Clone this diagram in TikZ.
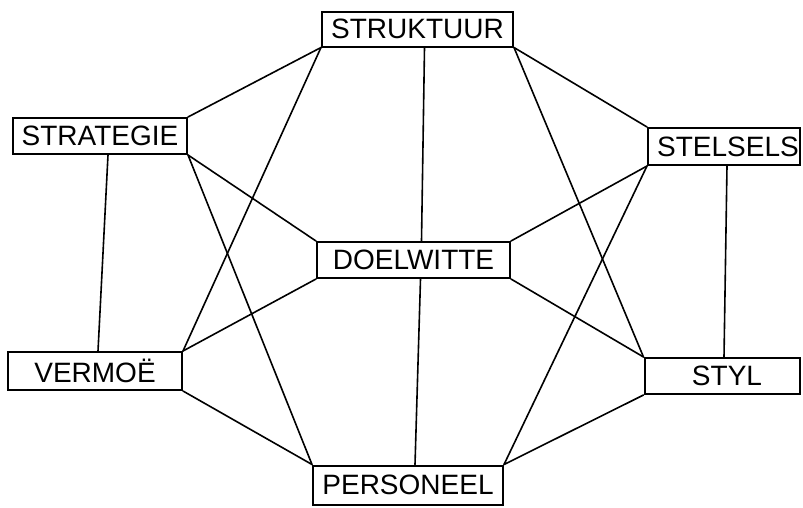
\documentclass[tikz,border=0pt]{standalone}
\usepackage{fontspec}
\setmainfont{Liberation Sans}
\usetikzlibrary{calc}
\begin{document}
\begin{tikzpicture}[x=1pt,y=-1pt,
  sbox/.style={draw, line width=2pt, rectangle, inner sep=0pt,
    font=\fontsize{28}{30}\selectfont},
  conn/.style={line width=1.6pt, line cap=round}]
\useasboundingbox (0,0) rectangle (803,507);
\node[sbox, minimum width=191pt, minimum height=35pt] (struk) at (417.5,29) {STRUKTUUR};
\node[sbox, minimum width=174pt, minimum height=36pt] (strat) at (100,136) {STRATEGIE};
\node[sbox, minimum width=152pt, minimum height=37pt] (stel) at (724,146.5) {\hspace*{8pt}STELSELS};
\node[sbox, minimum width=193pt, minimum height=36pt] (doel) at (413.5,260) {DOELWITTE};
\node[sbox, minimum width=174pt, minimum height=38pt] (verm) at (95,371) {VERMOË};
\node[sbox, minimum width=155pt, minimum height=36pt] (styl) at (722,376) {\hspace*{10pt}STYL};
\node[sbox, minimum width=190pt, minimum height=39pt] (pers) at (408,485) {PERSONEEL};
% connectors
\draw[conn] (struk.south west) -- (strat.north east);
\draw[conn] (struk.south west) -- (verm.north east);
\draw[conn] ($(struk.south)+(7,0)$) -- ($(doel.north)+(8,0)$);
\draw[conn] (struk.south east) -- (stel.north west);
\draw[conn] (struk.south east) -- (styl.north west);
\draw[conn] ($(strat.south)+(8,0)$) -- ($(verm.north)+(3,0)$);
\draw[conn] (strat.south east) -- (doel.north west);
\draw[conn] (strat.south east) -- (pers.north west);
\draw[conn] ($(stel.south)+(3,0)$) -- ($(styl.north)+(2,0)$);
\draw[conn] (stel.south west) -- (doel.north east);
\draw[conn] (stel.south west) -- (pers.north east);
\draw[conn] (doel.south west) -- (verm.north east);
\draw[conn] (doel.south east) -- (styl.north west);
\draw[conn] ($(doel.south)+(7,0)$) -- ($(pers.north)+(7,0)$);
\draw[conn] (verm.south east) -- (pers.north west);
\draw[conn] (styl.south west) -- (pers.north east);
\end{tikzpicture}
\end{document}
